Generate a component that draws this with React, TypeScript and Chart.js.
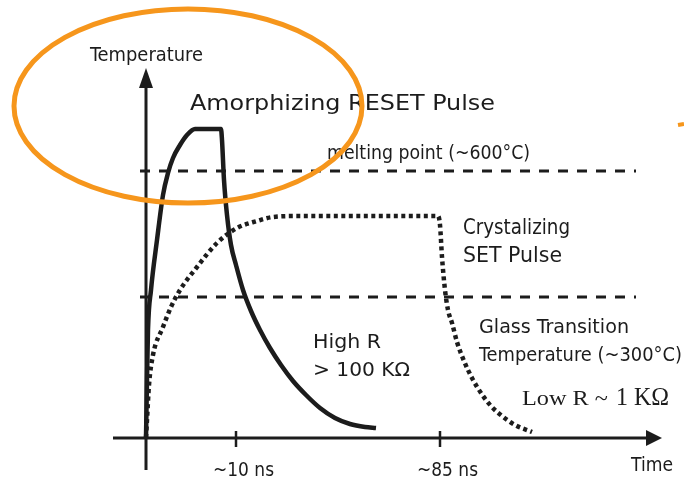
import React, { useEffect, useRef } from "react";
import { Chart, registerables } from "chart.js";

Chart.register(...registerables);

// ---- data (schematic units: time a.u. from pulse start, temperature a.u. above ambient) ----
const resetTime = [0, 1, 2, 5, 11, 17, 22, 27, 34, 41, 49, 75, 76, 78, 81, 85, 90, 97, 105, 114, 124, 135, 147, 160, 174, 189, 204, 219, 230];
const resetTemp = [0, 58, 108, 148, 198, 243, 265, 280, 293, 303, 309, 309, 298, 258, 223, 193, 173, 148, 127, 108, 90, 73, 57, 43, 30, 20, 14, 11, 10];

const setTime = [0, 1, 3, 7, 17, 25, 34, 51, 71, 91, 111, 127, 154, 292, 294, 296, 299, 302, 306, 311, 318, 326, 335, 345, 356, 369, 386];
const setTemp = [0, 18, 53, 83, 111, 131, 148, 171, 195, 210, 217, 221, 222, 222, 213, 181, 148, 128, 115, 96, 77, 60, 45, 32, 22, 13, 6];

const meltingLevel = 267;
const glassLevel = 141;
const levelSpan = [-6, 490];

const tickTimes = [90, 294];
const tickLabels = ["~10 ns", "~85 ns"];

const INK = "#1c1c1c";
const ORANGE = "rgb(246,150,28)";

type Note = { text: string; x: number; y: number; size: number; w: number; serif?: boolean };

const notes: Note[] = [
  { text: "Temperature", x: 90, y: 61, size: 20, w: 113 },
  { text: "Amorphizing RESET Pulse", x: 190, y: 110, size: 22, w: 305 },
  { text: "melting point (~600°C)", x: 327, y: 159, size: 19, w: 203 },
  { text: "Crystalizing", x: 463, y: 234, size: 21, w: 107 },
  { text: "SET Pulse", x: 463, y: 262, size: 21, w: 99 },
  { text: "Glass Transition", x: 479, y: 333, size: 20, w: 150 },
  { text: "Temperature (~300°C)", x: 479, y: 361, size: 20, w: 203 },
  { text: "High R", x: 313, y: 348, size: 20, w: 68 },
  { text: "> 100 KΩ", x: 313, y: 376, size: 20, w: 97 },
  { text: "Low R ~", x: 522, y: 405, size: 20, w: 86, serif: true },
  { text: "1 KΩ", x: 616, y: 405, size: 25, w: 53, serif: true },
  { text: "Time", x: 631, y: 471, size: 20, w: 42 },
];

function drawText(ctx: CanvasRenderingContext2D, n: Note) {
  ctx.save();
  ctx.font = n.serif
    ? `${n.size}px "Liberation Serif", "DejaVu Serif", serif`
    : `${n.size}px "DejaVu Sans Condensed", "DejaVu Sans", sans-serif`;
  ctx.fillStyle = INK;
  ctx.textBaseline = "alphabetic";
  ctx.textAlign = "left";
  const m = ctx.measureText(n.text).width;
  ctx.translate(n.x, n.y);
  ctx.scale(n.w / m, 1);
  ctx.fillText(n.text, 0, 0);
  ctx.restore();
}

const diagramPlugin = {
  id: "diagram",
  beforeDatasetsDraw(chart: any) {
    const ctx: CanvasRenderingContext2D = chart.ctx;
    const xs = chart.scales.x;
    const ys = chart.scales.y;
    const X = (v: number) => xs.getPixelForValue(v);
    const Y = (v: number) => ys.getPixelForValue(v);
    ctx.save();
    ctx.strokeStyle = INK;
    ctx.fillStyle = INK;
    ctx.lineWidth = 3;
    // y axis
    ctx.beginPath();
    ctx.moveTo(X(0), Y(-32));
    ctx.lineTo(X(0), Y(352));
    ctx.stroke();
    ctx.beginPath();
    ctx.moveTo(X(0), Y(370));
    ctx.lineTo(X(0) - 7, Y(350));
    ctx.lineTo(X(0) + 7, Y(350));
    ctx.closePath();
    ctx.fill();
    // x axis
    ctx.beginPath();
    ctx.moveTo(X(-33), Y(0));
    ctx.lineTo(X(502), Y(0));
    ctx.stroke();
    ctx.beginPath();
    ctx.moveTo(X(516), Y(0));
    ctx.lineTo(X(500), Y(0) - 8);
    ctx.lineTo(X(500), Y(0) + 8);
    ctx.closePath();
    ctx.fill();
    // ticks
    ctx.lineWidth = 2.5;
    tickTimes.forEach((t) => {
      ctx.beginPath();
      ctx.moveTo(X(t), Y(0) - 7);
      ctx.lineTo(X(t), Y(0) + 9);
      ctx.stroke();
    });
    ctx.restore();
  },
  afterDraw(chart: any) {
    const ctx: CanvasRenderingContext2D = chart.ctx;
    const xs = chart.scales.x;
    const X = (v: number) => xs.getPixelForValue(v);
    notes.forEach((n) => drawText(ctx, n));
    tickLabels.forEach((lab, i) => {
      drawText(ctx, { text: lab, x: X(tickTimes[i]) - 23, y: 476, size: 20, w: 61 });
    });
    // orange highlight ellipse
    ctx.save();
    ctx.strokeStyle = ORANGE;
    ctx.lineWidth = 5;
    ctx.beginPath();
    ctx.ellipse(188, 106, 174, 97, 0, 0, Math.PI * 2);
    ctx.stroke();
    ctx.beginPath();
    ctx.moveTo(678, 125);
    ctx.lineTo(684, 124);
    ctx.lineWidth = 4;
    ctx.stroke();
    ctx.restore();
  },
};

export default function App() {
  const ref = useRef<HTMLCanvasElement | null>(null);
  useEffect(() => {
    document.body.style.margin = "0";
    const canvas = ref.current;
    if (!canvas) return;
    const toPts = (xs: number[], ys: number[]) => xs.map((x, i) => ({ x, y: ys[i] }));
    const chart = new Chart(canvas, {
      type: "scatter",
      data: {
        datasets: [
          {
            label: "melting point",
            data: toPts(levelSpan, [meltingLevel, meltingLevel]),
            showLine: true,
            borderColor: INK,
            borderWidth: 3,
            borderDash: [10, 9],
            pointRadius: 0,
          },
          {
            label: "glass transition",
            data: toPts(levelSpan, [glassLevel, glassLevel]),
            showLine: true,
            borderColor: INK,
            borderWidth: 3,
            borderDash: [10, 9],
            pointRadius: 0,
          },
          {
            label: "SET pulse",
            data: toPts(setTime, setTemp),
            showLine: true,
            borderColor: INK,
            borderWidth: 4.5,
            borderDash: [4, 3.5],
            borderCapStyle: "butt",
            cubicInterpolationMode: "monotone",
            pointRadius: 0,
          },
          {
            label: "RESET pulse",
            data: toPts(resetTime, resetTemp),
            showLine: true,
            borderColor: INK,
            borderWidth: 4.5,
            cubicInterpolationMode: "monotone",
            pointRadius: 0,
          },
        ],
      },
      options: {
        animation: false,
        responsive: false,
        devicePixelRatio: 1,
        layout: { padding: 0 },
        plugins: { legend: { display: false }, tooltip: { enabled: false } },
        scales: {
          x: { type: "linear", min: -146, max: 538, display: false },
          y: { type: "linear", min: -42, max: 438, display: false },
        },
      },
      plugins: [diagramPlugin],
    });
    return () => chart.destroy();
  }, []);
  return (
    <div style={{ width: 684, height: 480, background: "#fff" }}>
      <canvas ref={ref} width={684} height={480} style={{ display: "block" }} />
    </div>
  );
}
